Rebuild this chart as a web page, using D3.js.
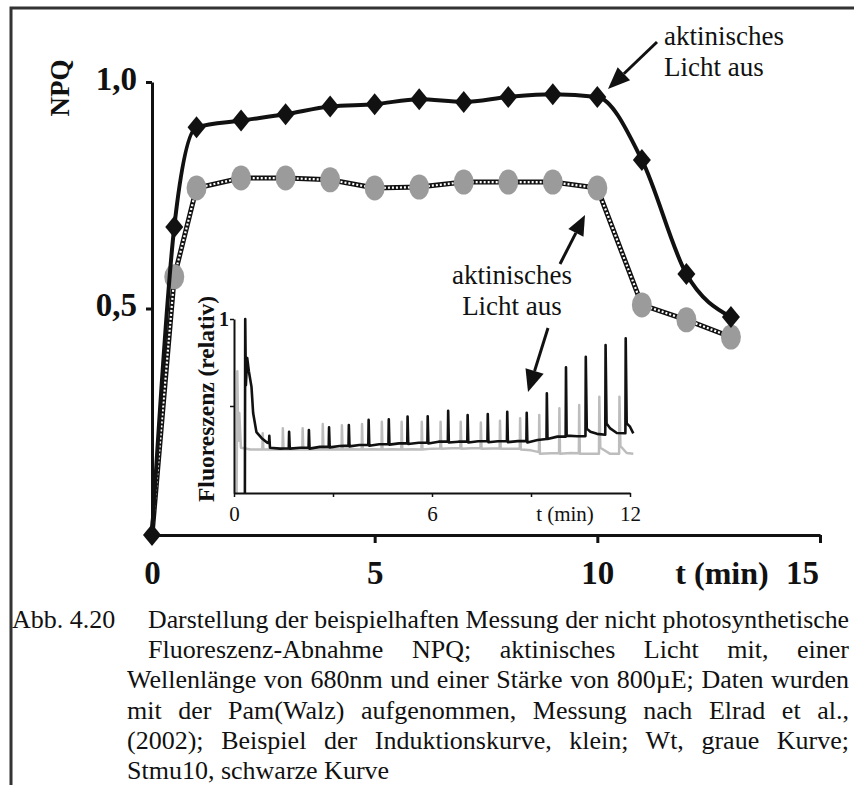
<!DOCTYPE html>
<html>
<head>
	<meta charset="utf-8">
	<title>NPQ Messung</title>
	<style>
		body { margin: 0; background: #fff; }
		svg { display: block; }
		text { font-family: "Liberation Serif", "Times New Roman", serif; fill: #111; }
	</style>
</head>
<body>
	<div id="chart"></div>
	<script src="https://cdn.jsdelivr.net/npm/d3@7"></script>
	<script>
		// main chart: NPQ over time
		const mainT = [0, 0.5, 1, 2, 3, 4, 5, 6, 7, 8, 9, 10, 11, 12, 13];
		const stmu10NPQ = [0, 0.68, 0.90, 0.915, 0.929, 0.946, 0.951, 0.962, 0.956, 0.967, 0.973, 0.967, 0.828, 0.576, 0.481];
		const wtNPQ = [0, 0.57, 0.766, 0.788, 0.788, 0.784, 0.766, 0.768, 0.779, 0.779, 0.779, 0.766, 0.508, 0.475, 0.437];
		const mainXTicks = [0, 5, 10, 15];
		const mainYTicks = [0.5, 1];

		// inset: induction curves (fluorescence, relative)
		const inStmu10 = [
			[0.33, 0], [0.34, 1.0], [0.36, 0.62], [0.40, 0.776], [0.45, 0.70], [0.53, 0.61], [0.58, 0.46],
			[0.68, 0.35], [0.84, 0.315], [1.0, 0.29],
			[1.06, 0.285], [1.07, 0.329], [1.09, 0.26], [1.4, 0.255],
			[1.66, 0.257], [1.67, 0.352], [1.69, 0.255], [2.0, 0.26],
			[2.26, 0.26], [2.27, 0.362], [2.29, 0.255], [2.6, 0.265],
			[2.87, 0.266], [2.88, 0.377], [2.90, 0.262], [3.2, 0.27],
			[3.47, 0.272], [3.48, 0.391], [3.50, 0.268], [3.8, 0.276],
			[4.07, 0.276], [4.08, 0.420], [4.10, 0.272], [4.4, 0.28],
			[4.68, 0.282], [4.69, 0.423], [4.71, 0.278], [5.0, 0.285],
			[5.25, 0.286], [5.26, 0.439], [5.28, 0.282], [5.6, 0.289],
			[5.86, 0.29], [5.87, 0.441], [5.89, 0.285], [6.2, 0.295],
			[6.48, 0.295], [6.49, 0.473], [6.51, 0.29], [6.8, 0.295],
			[7.07, 0.295], [7.08, 0.448], [7.10, 0.29], [7.4, 0.297],
			[7.68, 0.297], [7.69, 0.454], [7.71, 0.292], [8.0, 0.297],
			[8.27, 0.298], [8.28, 0.467], [8.30, 0.292], [8.6, 0.298],
			[8.86, 0.298], [8.87, 0.461], [8.89, 0.29], [9.2, 0.305],
			[9.47, 0.31], [9.48, 0.573], [9.50, 0.31], [9.8, 0.324],
			[10.05, 0.324], [10.06, 0.722], [10.08, 0.33], [10.4, 0.326],
			[10.65, 0.327], [10.66, 0.783], [10.69, 0.37], [10.8, 0.352], [11.0, 0.34],
			[11.25, 0.335], [11.26, 0.851], [11.29, 0.40], [11.4, 0.371], [11.6, 0.345],
			[11.86, 0.343], [11.87, 0.889], [11.90, 0.40], [12.0, 0.381], [12.1, 0.343]
		];
		const inWt = [
			[0.08, 0], [0.10, 0.70], [0.13, 0.30], [0.16, 0.46], [0.21, 0.26], [0.5, 0.25],
			[0.86, 0.25], [0.87, 0.343], [0.89, 0.25], [1.2, 0.252],
			[1.47, 0.25], [1.48, 0.372], [1.50, 0.25], [1.8, 0.252],
			[2.07, 0.25], [2.08, 0.372], [2.10, 0.25], [2.4, 0.252],
			[2.68, 0.25], [2.69, 0.397], [2.71, 0.25], [3.0, 0.252],
			[3.26, 0.25], [3.27, 0.39], [3.29, 0.25], [3.6, 0.252],
			[3.87, 0.25], [3.88, 0.397], [3.90, 0.25], [4.2, 0.252],
			[4.47, 0.25], [4.48, 0.41], [4.50, 0.25], [4.8, 0.252],
			[5.07, 0.25], [5.08, 0.41], [5.10, 0.25], [5.4, 0.252],
			[5.68, 0.25], [5.69, 0.41], [5.71, 0.25], [6.0, 0.255],
			[6.25, 0.256], [6.26, 0.41], [6.28, 0.255], [6.6, 0.257],
			[6.86, 0.257], [6.87, 0.41], [6.89, 0.255], [7.2, 0.257],
			[7.47, 0.257], [7.48, 0.405], [7.50, 0.255], [7.8, 0.256],
			[8.05, 0.256], [8.06, 0.415], [8.08, 0.255], [8.4, 0.255],
			[8.66, 0.255], [8.67, 0.43], [8.69, 0.25], [9.0, 0.245],
			[9.24, 0.235], [9.25, 0.448], [9.27, 0.225], [9.6, 0.228],
			[9.85, 0.228], [9.86, 0.487], [9.88, 0.225], [10.2, 0.23],
			[10.45, 0.228], [10.46, 0.506], [10.48, 0.225], [10.8, 0.225],
			[11.06, 0.225], [11.07, 0.553], [11.10, 0.26], [11.4, 0.225],
			[11.67, 0.225], [11.68, 0.553], [11.71, 0.27], [11.9, 0.23], [12.1, 0.225]
		];
		const inXTicks = [0, 3, 6, 9, 12];
		const inXLabels = [0, 6, 12];
		const inYTicks = [0.5, 1];

		const captionLines = [
			'Darstellung der beispielhaften Messung der nicht photosynthetische',
			'Fluoreszenz-Abnahme NPQ; aktinisches Licht mit, einer',
			'Wellenlänge von 680nm und einer Stärke von 800µE; Daten wurden',
			'mit der Pam(Walz) aufgenommen, Messung nach Elrad et al.,',
			'(2002); Beispiel der Induktionskurve, klein; Wt, graue Kurve;',
			'Stmu10, schwarze Kurve'
		];

		const W = 854, H = 785;
		const svg = d3.select('#chart').append('svg')
			.attr('width', W).attr('height', H);

		svg.append('rect').attr('width', W).attr('height', H).attr('fill', '#fff');

		// frame of the figure
		svg.append('path')
			.attr('d', `M11,${H} L11,8 L${W},8`)
			.attr('fill', 'none').attr('stroke', '#333').attr('stroke-width', 3);

		const x = d3.scaleLinear().domain([0, 15]).range([152, 820]);
		const y = d3.scaleLinear().domain([0, 1]).range([535, 82]);

		// axes
		const xAxis = svg.append('g')
			.attr('transform', `translate(0,${y(0)})`)
			.call(d3.axisBottom(x).tickValues(mainXTicks).tickSize(8).tickSizeOuter(0).tickFormat(d3.format('d')));
		xAxis.selectAll('text').attr('dy', null).attr('y', 49)
			.attr('x', d => d === 15 ? -18 : 0)
			.style('font-size', '33px').style('font-weight', 'bold');

		const yAxis = svg.append('g')
			.attr('transform', `translate(${x(0)},0)`)
			.call(d3.axisLeft(y).tickValues(mainYTicks).tickSize(6).tickSizeOuter(0).tickPadding(9)
				.tickFormat(d => d3.format('.1f')(d).replace('.', ',')));
		yAxis.selectAll('text').attr('dy', '0.22em')
			.style('font-size', '33px').style('font-weight', 'bold');

		[xAxis, yAxis].forEach(a => {
			a.select('.domain').attr('stroke', '#111').attr('stroke-width', 3);
			a.selectAll('.tick line').attr('stroke', '#111').attr('stroke-width', 3);
		});

		svg.append('text')
			.attr('transform', 'translate(69,88) rotate(-90)')
			.attr('text-anchor', 'middle')
			.style('font-size', '27px').style('font-weight', 'bold')
			.text('NPQ');

		svg.append('text')
			.attr('x', 722).attr('y', 584)
			.attr('text-anchor', 'middle')
			.style('font-size', '32px').style('font-weight', 'bold')
			.text('t (min)');

		// ---------- inset ----------
		const xi = d3.scaleLinear().domain([0, 12]).range([234, 630]);
		const yi = d3.scaleLinear().domain([0, 1]).range([493, 319]);

		const inset = svg.append('g');
		const inLine = d3.line().x(d => xi(d[0])).y(d => yi(d[1]));

		inset.append('path').datum(inWt)
			.attr('d', inLine)
			.attr('fill', 'none').attr('stroke', '#bdbdbd').attr('stroke-width', 2.5)
			.attr('stroke-linejoin', 'round');
		inset.append('path').datum(inStmu10)
			.attr('d', inLine)
			.attr('fill', 'none').attr('stroke', '#111').attr('stroke-width', 2.6)
			.attr('stroke-linejoin', 'round');

		const ixAxis = inset.append('g')
			.attr('transform', `translate(0,${yi(0)})`)
			.call(d3.axisBottom(xi).tickValues(inXTicks).tickSize(4).tickSizeOuter(0)
				.tickFormat(d => inXLabels.includes(d) ? d : ''));
		ixAxis.selectAll('text').attr('dy', null).attr('y', 28).style('font-size', '21px');

		const iyAxis = inset.append('g')
			.attr('transform', `translate(${xi(0)},0)`)
			.call(d3.axisLeft(yi).tickValues(inYTicks).tickSize(4).tickSizeOuter(0).tickPadding(1)
				.tickFormat(d => d === 1 ? '1' : ''));
		iyAxis.selectAll('text').attr('dy', '0.3em').style('font-size', '20px').style('font-weight', 'bold');

		[ixAxis, iyAxis].forEach(a => {
			a.select('.domain').attr('stroke', '#111').attr('stroke-width', 2);
			a.selectAll('.tick line').attr('stroke', '#111').attr('stroke-width', 1.5);
		});

		inset.append('text')
			.attr('x', 565).attr('y', 521)
			.attr('text-anchor', 'middle')
			.style('font-size', '21px')
			.text('t (min)');

		inset.append('text')
			.attr('transform', 'translate(214,399) rotate(-90)')
			.attr('text-anchor', 'middle')
			.style('font-size', '23.5px').style('font-weight', 'bold')
			.text('Fluoreszenz (relativ)');

		// ---------- main series ----------
		const wtPts = mainT.map((t, i) => [t, wtNPQ[i]]);
		const stPts = mainT.map((t, i) => [t, stmu10NPQ[i]]);

		const wtLine = d3.line().x(d => x(d[0])).y(d => y(d[1]));
		const stLine = d3.line().x(d => x(d[0])).y(d => y(d[1])).curve(d3.curveMonotoneX);

		// grey chain-like line
		svg.append('path').datum(wtPts)
			.attr('d', wtLine)
			.attr('fill', 'none').attr('stroke', '#111').attr('stroke-width', 5);
		svg.append('path').datum(wtPts)
			.attr('d', wtLine)
			.attr('fill', 'none').attr('stroke', '#fff').attr('stroke-width', 2.2)
			.attr('stroke-dasharray', '2,2');

		svg.append('g').selectAll('ellipse')
			.data(wtPts.filter(d => d[0] > 0))
			.join('ellipse')
			.attr('cx', d => x(d[0])).attr('cy', d => y(d[1]))
			.attr('rx', 10).attr('ry', 12.5)
			.attr('fill', '#9b9b9b');

		svg.append('path').datum(stPts)
			.attr('d', stLine)
			.attr('fill', 'none').attr('stroke', '#111').attr('stroke-width', 4);

		svg.append('g').selectAll('path')
			.data(stPts)
			.join('path')
			.attr('transform', d => `translate(${x(d[0])},${y(d[1])})`)
			.attr('d', 'M0,-11L9,0L0,11L-9,0Z')
			.attr('fill', '#111');

		// ---------- annotations ----------
		function arrow(x1, y1, x2, y2, len, w) {
			const a = Math.atan2(y2 - y1, x2 - x1);
			const bx = x2 - len * Math.cos(a), by = y2 - len * Math.sin(a);
			const px = Math.sin(a) * w / 2, py = -Math.cos(a) * w / 2;
			svg.append('line')
				.attr('x1', x1).attr('y1', y1).attr('x2', bx).attr('y2', by)
				.attr('stroke', '#111').attr('stroke-width', 3);
			svg.append('path')
				.attr('d', `M${x2},${y2}L${bx + px},${by + py}L${bx - px},${by - py}Z`)
				.attr('fill', '#111');
		}

		function label(lines, x0, y0, anchor) {
			const t = svg.append('text').style('font-size', '27px').attr('text-anchor', anchor);
			lines.forEach((s, i) => t.append('tspan').attr('x', x0).attr('y', y0 + i * 31).text(s));
		}

		label(['aktinisches', 'Licht aus'], 664, 45, 'start');
		arrow(657, 42, 608, 89, 22, 18);

		label(['aktinisches', 'Licht aus'], 512, 284, 'middle');
		arrow(560, 264, 585, 215, 20, 17);
		arrow(548, 328, 528, 392, 22, 19);

		// ---------- caption (justified by word spacing) ----------
		const cap = svg.append('g').style('font-size', '26px');
		cap.append('text').attr('x', 12).attr('y', 628).text('Abb. 4.20');
		captionLines.forEach((s, i) => {
			const x0 = i < 2 ? 148 : 127;
			const target = 849 - x0;
			const t = cap.append('text')
				.attr('x', x0)
				.attr('y', 628 + i * 30.2)
				.text(s);
			if (i === captionLines.length - 1) return;
			const natural = t.node().getComputedTextLength();
			const gaps = s.split(' ').length - 1;
			if (natural > target) {
				t.attr('textLength', target).attr('lengthAdjust', 'spacingAndGlyphs');
			} else {
				t.style('word-spacing', ((target - natural) / gaps) + 'px');
			}
		});
	</script>
</body>
</html>
